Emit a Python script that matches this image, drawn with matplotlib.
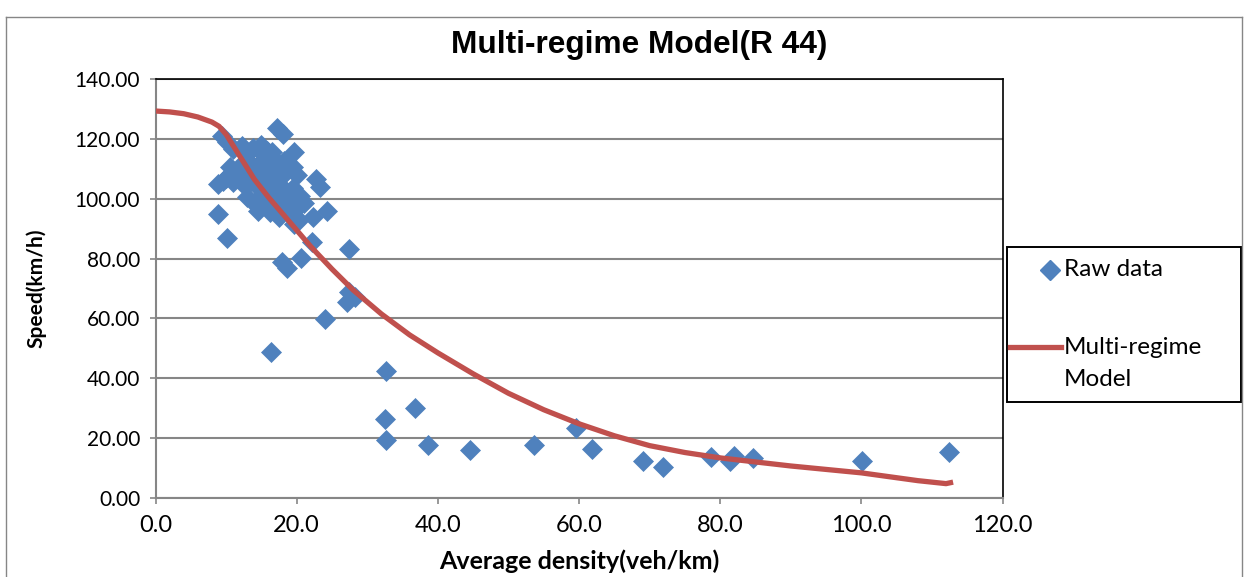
import matplotlib
matplotlib.use("Agg")
import matplotlib.pyplot as plt
from matplotlib.patches import Rectangle
from matplotlib.lines import Line2D

# Observed density (veh/km) and speed (km/h)
density = [
    9.4, 10.2, 11.0, 12.3, 13.0, 13.8, 14.5, 15.0, 15.8, 16.5, 17.2, 18.0, 19.6, 17.0, 18.2,
    10.5, 11.5, 12.0, 12.8, 13.5, 14.2, 14.8, 15.5, 16.2, 17.0, 17.8, 18.5, 19.5, 20.0,
    10.0, 11.0, 12.5, 13.5, 14.5, 15.5, 16.5, 17.5, 18.5, 19.5, 20.5, 22.8, 23.3, 8.8, 9.5,
    13.0, 14.0, 15.0, 16.0, 17.0, 18.0, 19.0, 20.0, 21.0, 14.5, 16.2, 17.5, 19.2, 20.3,
    22.3, 24.3, 19.6, 22.2, 8.8, 10.2, 20.6, 17.9, 18.7,
    16.4, 24.0, 27.4, 27.4, 28.2, 27.2,
    32.6, 32.5, 32.6, 36.8, 38.6, 44.5, 53.6, 59.6, 61.8, 69.0, 71.9,
    78.7, 81.4, 82.0, 84.7, 100.1, 112.4,
]
speed = [
    121.0, 119.0, 116.5, 117.5, 115.0, 117.0, 116.5, 117.8, 116.0, 115.5, 123.5, 121.5, 115.5, 113.0, 112.5,
    110.5, 108.0, 111.0, 109.0, 111.5, 108.5, 112.0, 110.0, 108.0, 110.0, 107.5, 109.0, 110.5, 108.0,
    107.0, 105.5, 104.5, 106.0, 104.0, 105.5, 103.0, 104.5, 102.5, 103.5, 101.0, 106.5, 104.0, 105.0, 106.0,
    100.5, 98.5, 101.0, 99.0, 100.0, 97.5, 99.5, 97.0, 98.5, 96.0, 95.5, 94.0, 95.0, 93.0,
    94.0, 95.8, 91.5, 85.4, 95.0, 87.0, 80.2, 79.0, 77.0,
    48.8, 59.8, 83.1, 68.8, 67.3, 65.5,
    42.3, 26.4, 19.4, 30.0, 17.8, 16.1, 17.8, 23.3, 16.3, 12.5, 10.3,
    13.6, 12.5, 14.1, 13.3, 12.4, 15.5,
]

# Fitted multi-regime speed-density relation
model_density = [0, 2, 4, 6, 8, 9, 10, 12, 14, 16, 18, 20, 22, 25, 28, 32, 36, 40,
                 45, 50, 55, 60, 65, 70, 75, 80, 90, 100, 108, 112, 113]
model_speed = [129.3, 129.0, 128.4, 127.3, 125.6, 124.2, 121.5, 114.0, 106.5, 100.5,
               95.0, 89.5, 84.0, 76.5, 69.5, 61.5, 54.5, 48.5, 41.5, 35.0, 29.5, 24.8,
               20.8, 17.5, 15.2, 13.4, 10.7, 8.4, 5.8, 4.8, 5.3]

x_ticks = [0, 20, 40, 60, 80, 100, 120]
y_ticks = [0, 20, 40, 60, 80, 100, 120, 140]

BLUE = "#4F81BD"
RED = "#C0504D"
GRID = "#868686"
W, H = 1244, 577


def fx(px):
    return px / W


def fy(py):
    return 1 - py / H


fig = plt.figure(figsize=(W / 100, H / 100), dpi=100)
fig.patch.set_facecolor("white")

# chart-area frame
fig.add_artist(Line2D([fx(6), fx(6)], [fy(17), -0.05], color=GRID, lw=1.0))
fig.add_artist(Line2D([fx(6), fx(1242)], [fy(17), fy(17)], color=GRID, lw=1.0))
fig.add_artist(Line2D([fx(1242), fx(1242)], [fy(17), -0.05], color=GRID, lw=1.0))

ax = fig.add_axes([fx(155.5), fy(498), (1002.5 - 155.5) / W, (498 - 79) / H])
ax.set_xlim(0, 120)
ax.set_ylim(0, 140)

ax.plot(density, speed, linestyle="none", marker="D", markersize=10.5,
        markerfacecolor=BLUE, markeredgecolor=BLUE, markeredgewidth=0.5, zorder=3)
ax.plot(model_density, model_speed, color=RED, lw=3.8, solid_joinstyle="round",
        solid_capstyle="butt", zorder=4)

ax.set_xticks(x_ticks)
ax.set_yticks(y_ticks)
ax.set_xticklabels([f"{v:.1f}" for v in x_ticks], fontfamily="Lato", fontsize=17)
ax.set_yticklabels([f"{v:.2f}" for v in y_ticks], fontfamily="Lato", fontsize=15)
ax.tick_params(axis="both", direction="out", length=4, width=1.2, color=GRID)
ax.tick_params(axis="x", pad=8)
ax.tick_params(axis="y", pad=7)

ax.yaxis.grid(True, color=GRID, lw=1.5)
ax.set_axisbelow(True)
for side in ("left", "bottom"):
    ax.spines[side].set_color(GRID)
    ax.spines[side].set_linewidth(1.5)
for side in ("top", "right"):
    ax.spines[side].set_color("black")
    ax.spines[side].set_linewidth(1.2)

ax.set_xlabel("Average density(veh/km)", fontfamily="Lato", fontweight="bold",
              fontsize=18, labelpad=10)
ax.set_ylabel("Speed(km/h)", fontfamily="Lato", fontweight="bold", fontsize=15,
              labelpad=20)

fig.text(fx(639), fy(45), "Multi-regime Model(R 44)", ha="center", va="center",
         fontfamily="Liberation Sans", fontweight="bold", fontsize=22.8)

# legend
fig.add_artist(Rectangle((fx(1006.7), fy(401.7)), (1240.7 - 1006.7) / W,
                         (401.7 - 247) / H, fill=False, edgecolor="black", lw=1.4))
fig.add_artist(Line2D([fx(1050)], [fy(270)], marker="D", markersize=10.5,
                      markerfacecolor=BLUE, markeredgecolor=BLUE, linestyle="none"))
fig.text(fx(1064), fy(270), "Raw data", ha="left", va="center",
         fontfamily="Lato", fontsize=17.5)
fig.add_artist(Line2D([fx(1010), fx(1061)], [fy(347), fy(347)], color=RED, lw=3.8))
fig.text(fx(1064), fy(347), "Multi-regime", ha="left", va="center",
         fontfamily="Lato", fontsize=17.5)
fig.text(fx(1064), fy(380), "Model", ha="left", va="center",
         fontfamily="Lato", fontsize=17.5)

fig.savefig("out.png", dpi=100, facecolor="white")
